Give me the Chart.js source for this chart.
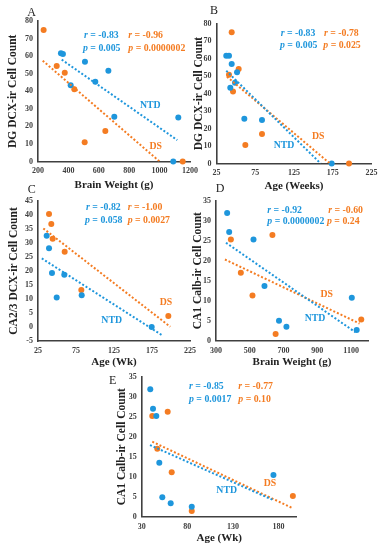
<!DOCTYPE html>
<html>
<head>
<meta charset="utf-8">
<script src="https://cdn.jsdelivr.net/npm/chart.js@4.4.1/dist/chart.umd.min.js"></script>
<style>
    html, body { margin: 0; padding: 0; background: #fff; }
    #wrap { position: relative; width: 386px; height: 550px; }
    #wrap canvas { position: absolute; left: 0; top: 0; }
</style>
</head>
<body>
<div id="wrap">
    <canvas id="panel-a" width="386" height="550"></canvas>
    <canvas id="panel-b" width="386" height="550"></canvas>
    <canvas id="panel-c" width="386" height="550"></canvas>
    <canvas id="panel-d" width="386" height="550"></canvas>
    <canvas id="panel-e" width="386" height="550"></canvas>
</div>
<script>
// A: brain weight (g) vs DG DCX-ir cell count
var aNtdX = [351, 364, 415, 509, 577, 663, 702, 1090, 1123];
var aNtdY = [61.6, 61.2, 43.4, 56.8, 45.4, 51.7, 25.5, 0, 25];
var aDsX = [237, 323, 376, 439, 507, 643, 1152];
var aDsY = [74.9, 54.4, 50.6, 41.1, 10.9, 17.4, 0];
var aNtdTrend = [[356, 58], [1116, 12.2]];
var aDsTrend = [[231, 57.4], [1000, 0]];
var aXTicks = [200, 400, 600, 800, 1000, 1200];
var aYTicks = [0, 10, 20, 30, 40, 50, 60, 70, 80];

// B: age (weeks) vs DG DCX-ir cell count
var bNtdX = [37.6, 41.1, 44.6, 51.5, 48.9, 42.8, 60.9, 83.7, 173.6];
var bNtdY = [61.6, 61.6, 56.9, 52.1, 46.2, 43.3, 25.6, 24.9, 0];
var bDsX = [44.6, 53.6, 41.1, 46.3, 62.2, 83.7, 196];
var bDsY = [75, 54, 50.7, 41.2, 10.6, 16.9, 0];
var bNtdTrend = [[37.6, 53], [159.4, 0]];
var bDsTrend = [[38.5, 49.6], [171.4, 0]];
var bXTicks = [25, 75, 125, 175, 225];
var bYTicks = [0, 10, 20, 30, 40, 50, 60, 70, 80];

// C: age (wk) vs CA2/3 DCX-ir cell count
var cNtdX = [36.4, 39.5, 43.4, 59.6, 49.6, 82.5, 174.6];
var cNtdY = [32.6, 28.1, 19.3, 18.7, 10.5, 11.3, 0];
var cDsX = [39.5, 42.5, 44.3, 60.1, 82, 196.5];
var cDsY = [40.4, 36.8, 31.5, 26.9, 13.2, 3.9];
var cNtdTrend = [[30, 24.5], [188, -2.9]];
var cDsTrend = [[32, 35.2], [199, 0.1]];
var cXTicks = [25, 75, 125, 175, 225];
var cYTicks = [-5, 0, 5, 10, 15, 20, 25, 30, 35, 40, 45];

// D: brain weight (g) vs CA1 Calb-ir cell count
var dNtdX = [366, 378, 522, 587, 673, 717, 1104, 1133];
var dNtdY = [31.9, 27.2, 25.3, 13.7, 5, 3.5, 10.75, 2.7];
var dDsX = [388, 447, 516, 634, 653, 1160];
var dDsY = [25.3, 17, 11.3, 26.4, 1.7, 5.3];
var dNtdTrend = [[359, 24.5], [1126, 2.1]];
var dDsTrend = [[353, 20.3], [1150, 4.3]];
var dXTicks = [300, 500, 700, 900, 1100];
var dXRange = [300, 1200];
var dYTicks = [0, 5, 10, 15, 20, 25, 30, 35];

// E: age (wk) vs CA1 Calb-ir cell count
var eNtdX = [39.4, 42.4, 46, 49.3, 52.6, 61.8, 84.9, 174.5];
var eNtdY = [31.85, 27, 25.2, 13.5, 4.85, 3.35, 2.5, 10.4];
var eDsX = [41.6, 47.1, 58.5, 62.9, 84.9, 195.8];
var eDsY = [25.2, 17, 26.25, 11.1, 1.4, 5.2];
var eNtdTrend = [[39.1, 17.9], [173.8, 4.2]];
var eDsTrend = [[41.6, 18.75], [195.8, 2.1]];
var eXTicks = [30, 80, 130, 180];
var eXRange = [30, 200];
var eYTicks = [0, 5, 10, 15, 20, 25, 30, 35];

var SERIF = "'Liberation Serif', 'DejaVu Serif', serif";
var BLUE = '#1e96dc';
var ORANGE = '#f47c22';
var AXIS = '#404040';

function pts(xs, ys) {
    return xs.map(function (x, i) { return { x: x, y: ys[i] }; });
}
function pairs(list) {
    return list.map(function (p) { return { x: p[0], y: p[1] }; });
}

// r / p values, group labels and panel letters
var notesPlugin = {
    id: 'notes',
    afterDatasetsDraw: function (chart, args, opts) {
        var ctx = chart.ctx;
        (opts.items || []).forEach(function (it) {
            ctx.save();
            ctx.fillStyle = it.color;
            ctx.textBaseline = 'middle';
            ctx.textAlign = 'left';
            var x = it.x;
            if (it.lead) {
                ctx.font = 'italic bold ' + it.size + 'px ' + SERIF;
                ctx.fillText(it.lead, x, it.y);
                x += ctx.measureText(it.lead).width;
            }
            ctx.font = (it.weight || 'bold') + ' ' + it.size + 'px ' + SERIF;
            if (it.center) {
                ctx.textAlign = 'center';
            }
            ctx.fillText(it.text, x, it.y);
            ctx.restore();
        });
    }
};

function stats(x, y, lead, text, color) {
    return { x: x, y: y, lead: lead, text: text, color: color, size: 9.8 };
}
function tag(x, y, text, color) {
    return { x: x, y: y, text: text, color: color, size: 9.8, center: true };
}
function letter(x, y, text) {
    return { x: x, y: y, text: text, color: '#222', size: 12, weight: 'normal', center: true };
}

function panel(id, box, axes, ntd, ds, notes) {
    var lhX = 11 * 1.2;
    var lhY = 11.5 * 1.2;
    var padLeft = box.yTitleX - lhY / 2;
    var yWidth = box.L - padLeft;
    var xBottom = box.xTitleY + lhX / 2;
    var xHeight = xBottom - box.B;
    var tickFont = { family: SERIF, size: 8, weight: 'bold' };
    var plain = function (v) { return String(v); };

    function pointSet(data, color) {
        return { data: data, backgroundColor: color, borderWidth: 0, pointRadius: 3, pointHoverRadius: 3, clip: false, order: 1 };
    }
    function trendSet(data, color) {
        return { data: data, showLine: true, borderColor: color, borderWidth: 2, borderDash: [2, 2], pointRadius: 0, fill: false, order: 0 };
    }

    new Chart(document.getElementById(id), {
        type: 'scatter',
        data: {
            datasets: [
                pointSet(pts(ntd.x, ntd.y), BLUE),
                pointSet(pts(ds.x, ds.y), ORANGE),
                trendSet(pairs(ntd.trend), BLUE),
                trendSet(pairs(ds.trend), ORANGE),
            ],
        },
        options: {
            responsive: false,
            animation: false,
            devicePixelRatio: 1,
            layout: { padding: { left: padLeft, top: box.T, right: 386 - box.R, bottom: 550 - xBottom } },
            plugins: {
                legend: { display: false },
                tooltip: { enabled: false },
                notes: { items: notes },
            },
            scales: {
                x: {
                    type: 'linear',
                    position: 'bottom',
                    min: axes.xRange[0],
                    max: axes.xRange[1],
                    afterBuildTicks: function (s) {
                        s.ticks = axes.xTicks.map(function (v) { return { value: v }; });
                    },
                    afterFit: function (s) {
                        s.height = xHeight;
                        s.paddingLeft = 0;
                        s.paddingRight = 0;
                    },
                    grid: { display: false, drawTicks: false },
                    border: { display: true, color: AXIS, width: 1.6 },
                    ticks: { font: tickFont, color: AXIS, padding: 5, maxRotation: 0, autoSkip: false, callback: plain },
                    title: { display: true, text: axes.xTitle, color: '#222', padding: 0, font: { family: SERIF, size: 11, weight: 'bold' } },
                },
                y: {
                    type: 'linear',
                    position: 'left',
                    min: axes.yTicks[0],
                    max: axes.yTicks[axes.yTicks.length - 1],
                    afterBuildTicks: function (s) {
                        s.ticks = axes.yTicks.map(function (v) { return { value: v }; });
                    },
                    afterFit: function (s) {
                        s.width = yWidth;
                        s.paddingTop = 0;
                        s.paddingBottom = 0;
                    },
                    grid: { display: false, drawTicks: false },
                    border: { display: true, color: AXIS, width: 1.6 },
                    ticks: { font: tickFont, color: AXIS, padding: 5, autoSkip: false, callback: plain },
                    title: { display: true, text: axes.yTitle, color: '#222', padding: 0, font: { family: SERIF, size: 11.5, weight: 'bold' } },
                },
            },
        },
        plugins: [notesPlugin],
    });
}

panel('panel-a',
    { L: 38, R: 190, T: 21, B: 161.5, yTitleX: 13.5, xTitleY: 185 },
    { xTicks: aXTicks, xRange: [aXTicks[0], aXTicks[aXTicks.length - 1]], yTicks: aYTicks, xTitle: 'Brain Weight (g)', yTitle: 'DG DCX-ir Cell Count' },
    { x: aNtdX, y: aNtdY, trend: aNtdTrend },
    { x: aDsX, y: aDsY, trend: aDsTrend },
    [
        letter(31.7, 12.7, 'A'),
        stats(84, 35.5, 'r', ' = -0.83', BLUE),
        stats(83, 48, 'p', ' = 0.005', BLUE),
        stats(128.3, 35.5, 'r', ' = -0.96', ORANGE),
        stats(128.3, 48, 'p', ' = 0.0000002', ORANGE),
        tag(150.3, 105, 'NTD', BLUE),
        tag(155.8, 146.7, 'DS', ORANGE),
    ]);

panel('panel-b',
    { L: 216.5, R: 371.5, T: 23.5, B: 163.5, yTitleX: 199.5, xTitleY: 186.5 },
    { xTicks: bXTicks, xRange: [bXTicks[0], bXTicks[bXTicks.length - 1]], yTicks: bYTicks, xTitle: 'Age (Weeks)', yTitle: 'DG DCX-ir Cell Count' },
    { x: bNtdX, y: bNtdY, trend: bNtdTrend },
    { x: bDsX, y: bDsY, trend: bDsTrend },
    [
        letter(214, 11, 'B'),
        stats(280.7, 33.3, 'r', ' = -0.83', BLUE),
        stats(280, 45.5, 'p', ' = 0.005', BLUE),
        stats(324, 33.3, 'r', ' = -0.78', ORANGE),
        stats(323.3, 45.5, 'p', ' = 0.025', ORANGE),
        tag(284, 145.7, 'NTD', BLUE),
        tag(318.3, 136, 'DS', ORANGE),
    ]);

panel('panel-c',
    { L: 38, R: 190, T: 201, B: 341, yTitleX: 14.5, xTitleY: 362 },
    { xTicks: cXTicks, xRange: [cXTicks[0], cXTicks[cXTicks.length - 1]], yTicks: cYTicks, xTitle: 'Age (Wk)', yTitle: 'CA2/3 DCX-ir Cell Count' },
    { x: cNtdX, y: cNtdY, trend: cNtdTrend },
    { x: cDsX, y: cDsY, trend: cDsTrend },
    [
        letter(31.7, 190, 'C'),
        stats(86, 207.3, 'r', ' = -0.82', BLUE),
        stats(85, 220, 'p', ' = 0.058', BLUE),
        stats(127.7, 207.3, 'r', ' = -1.00', ORANGE),
        stats(127.7, 220, 'p', ' = 0.0027', ORANGE),
        tag(111.7, 320.7, 'NTD', BLUE),
        tag(166, 302, 'DS', ORANGE),
    ]);

panel('panel-d',
    { L: 216, R: 368, T: 200.7, B: 340.7, yTitleX: 198, xTitleY: 362 },
    { xTicks: dXTicks, xRange: dXRange, yTicks: dYTicks, xTitle: 'Brain Weight (g)', yTitle: 'CA1 Calb-ir Cell Count' },
    { x: dNtdX, y: dNtdY, trend: dNtdTrend },
    { x: dDsX, y: dDsY, trend: dDsTrend },
    [
        letter(220, 189.3, 'D'),
        stats(267.3, 210.5, 'r', ' = -0.92', BLUE),
        stats(267.3, 221.7, 'p', ' = 0.0000002', BLUE),
        stats(328.3, 210.5, 'r', ' = -0.60', ORANGE),
        stats(327, 221.7, 'p', ' = 0.24', ORANGE),
        tag(315, 318.3, 'NTD', BLUE),
        tag(326.7, 294.3, 'DS', ORANGE),
    ]);

panel('panel-e',
    { L: 141.7, R: 296.7, T: 376.7, B: 516.7, yTitleX: 122.5, xTitleY: 538 },
    { xTicks: eXTicks, xRange: eXRange, yTicks: eYTicks, xTitle: 'Age (Wk)', yTitle: 'CA1 Calb-ir Cell Count' },
    { x: eNtdX, y: eNtdY, trend: eNtdTrend },
    { x: eDsX, y: eDsY, trend: eDsTrend },
    [
        letter(112.7, 380.7, 'E'),
        stats(189, 386.7, 'r', ' = -0.85', BLUE),
        stats(189, 399.3, 'p', ' = 0.0017', BLUE),
        stats(238.3, 386.7, 'r', ' = -0.77', ORANGE),
        stats(238.3, 399.3, 'p', ' = 0.10', ORANGE),
        tag(226.7, 490.7, 'NTD', BLUE),
        tag(270, 483.3, 'DS', ORANGE),
    ]);
</script>
</body>
</html>
